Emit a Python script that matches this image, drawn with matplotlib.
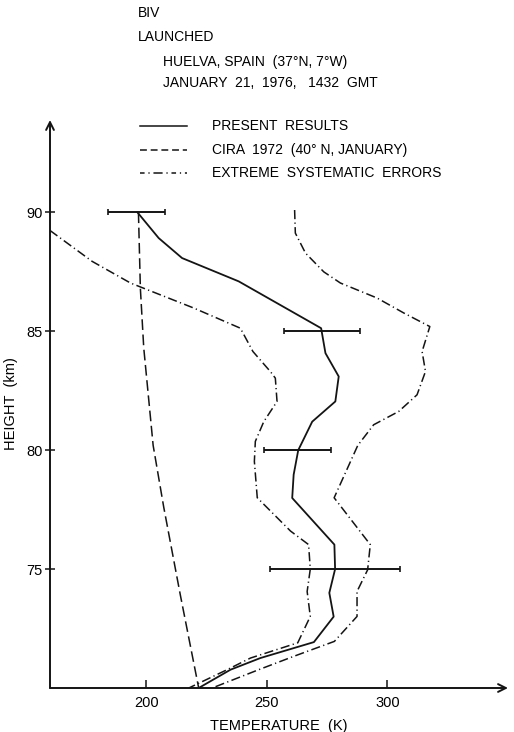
import numpy as np
import matplotlib
matplotlib.use("Agg")
import matplotlib.pyplot as plt
from matplotlib.lines import Line2D

plt.rcParams['font.family'] = ['Liberation Sans', 'DejaVu Sans']

# present results (height km, temperature K)
present_h = [90.0, 88.92, 88.08, 87.1, 85.13, 84.08, 83.1, 82.05, 81.2, 80.0,
             78.97, 77.99, 76.03, 75.0, 74.0, 73.0, 71.93, 71.26, 70.77, 70.0]
present_t = [196.3, 205.1, 214.8, 238.3, 272.5, 274.3, 279.8, 278.4, 268.8, 263.0,
             261.1, 260.5, 278.0, 278.3, 275.9, 277.7, 269.5, 247.3, 234.9, 221.7]

# CIRA 1972 (40N, January)
cira_h = [90.0, 86.8, 84.3, 80.2, 77.6, 73.9, 70.0]
cira_t = [196.7, 197.5, 198.9, 202.8, 207.2, 214.1, 221.7]

# extreme systematic errors, low side
low_h = [89.24, 87.94, 87.03, 85.98, 85.13, 84.15, 83.3, 83.03, 82.05, 81.2, 80.37,
         79.53, 78.0, 76.6, 76.03, 75.0, 74.06, 73.01, 71.9, 71.26, 70.77, 70.0]
low_t = [160.0, 177.5, 193.4, 219.6, 239.0, 244.2, 251.5, 253.5, 254.2, 248.7, 245.2,
         244.8, 246.0, 259.8, 267.3, 268.0, 266.7, 268.0, 262.8, 243.2, 233.5, 217.6]

# extreme systematic errors, high side
high_h = [90.1, 89.13, 88.29, 87.5, 87.03, 86.4, 85.77, 85.2, 84.15, 83.31, 82.33, 81.63,
          81.07, 80.2, 78.0, 76.03, 74.97, 74.06, 73.01, 71.96, 71.33, 70.77, 70.0]
high_t = [261.5, 261.8, 266.0, 273.6, 280.5, 295.7, 306.8, 317.6, 314.4, 315.8, 312.3, 304.7,
          294.3, 287.7, 277.9, 292.9, 291.8, 287.4, 287.4, 278.0, 261.1, 246.6, 227.3]

# error bars
err_h = [90, 85, 80, 75]
err_t = [196.0, 272.9, 262.7, 278.4]
err_dt = [11.8, 15.9, 14.0, 27.0]

x_ticks = [200, 250, 300]
y_ticks = [75, 80, 85, 90]

W, H = 514, 732
fig = plt.figure(figsize=(W / 100, H / 100), dpi=100)
ink = '#141414'

def fx(px):
    return px / W

def fy(py):
    return 1 - py / H

ax = fig.add_axes([fx(50), fy(688), fx(508) - fx(50), fy(120) - fy(688)])
ax.set_xlim(160, 160 + 458 / 2.41)
ax.set_ylim(70, 70 + 568 / 23.78)
for s in ax.spines.values():
    s.set_visible(False)

dashdot = (0, (6, 2.2, 0.8, 2.2))
ax.plot(present_t, present_h, color=ink, lw=1.3)
ax.plot(cira_t, cira_h, color=ink, lw=1.1, linestyle=(0, (7, 3)))
ax.plot(low_t, low_h, color=ink, lw=1.1, linestyle=dashdot)
ax.plot(high_t, high_h, color=ink, lw=1.1, linestyle=dashdot)
ax.errorbar(err_t, err_h, xerr=err_dt, fmt='none', ecolor=ink, elinewidth=1.4,
            capsize=2, capthick=1.2)

# axes with arrows
arrow = dict(arrowstyle='->', lw=1.4, color=ink, shrinkA=0, shrinkB=0, mutation_scale=14)
ax.annotate('', xy=(1, 0), xytext=(0, 0), xycoords='axes fraction', arrowprops=arrow)
ax.annotate('', xy=(0, 1), xytext=(0, 0), xycoords='axes fraction', arrowprops=arrow)

ax.set_xticks(x_ticks)
ax.set_yticks(y_ticks)
ax.tick_params(axis='x', direction='in', length=6, width=1.1, color=ink,
               labelsize=10.5, pad=6)
ax.tick_params(axis='y', direction='inout', length=7, width=1.1, color=ink,
               labelsize=10.5, pad=2)
ax.set_xlabel('TEMPERATURE  (K)', fontsize=10.5, labelpad=6)
ax.set_ylabel('HEIGHT  (km)', fontsize=10.5, labelpad=6)

# header text
fs = 10
fig.text(fx(138), fy(13), 'BIV', fontsize=fs, va='center')
fig.text(fx(138), fy(37), 'LAUNCHED', fontsize=fs, va='center')
fig.text(fx(163), fy(62), 'HUELVA, SPAIN  (37°N, 7°W)', fontsize=fs, va='center')
fig.text(fx(163), fy(83), 'JANUARY  21,  1976,   1432  GMT', fontsize=fs, va='center')

# legend drawn by hand
leg_labels = ['PRESENT  RESULTS', 'CIRA  1972  (40° N, JANUARY)', 'EXTREME  SYSTEMATIC  ERRORS']
leg_styles = ['-', (0, (4.5, 2.5)), (0, (3, 2.5, 0.8, 2.5, 6, 2.5, 0.8, 2.5))]
leg_y = [126, 150, 173]
for lab, ls, yy in zip(leg_labels, leg_styles, leg_y):
    fig.add_artist(Line2D([fx(140), fx(187)], [fy(yy), fy(yy)], color=ink, lw=1.1,
                          linestyle=ls))
    fig.text(fx(212), fy(yy), lab, fontsize=fs, va='center')

fig.savefig('out.png', dpi=100)
